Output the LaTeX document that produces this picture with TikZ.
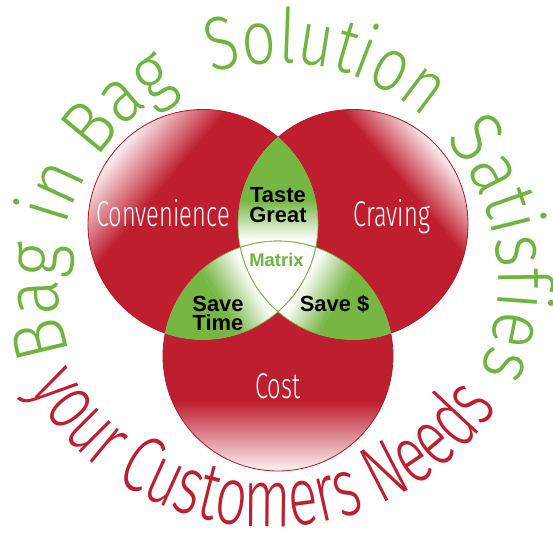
\documentclass[tikz,border=0pt]{standalone}
\usepackage{fontspec}
\setmainfont{Liberation Sans}
\newfontfamily\greenf[FakeStretch=0.88]{Fira Sans Light}
\newfontfamily\greennf[FakeStretch=0.80]{Fira Sans Light}
\newfontfamily\condf[FakeStretch=0.66]{Fira Sans Light}
\newfontfamily\redf[FakeStretch=0.68]{Fira Sans Light}
\usetikzlibrary{decorations.text,calc}
\definecolor{cred}{RGB}{190,30,46}
\definecolor{credline}{RGB}{180,25,42}
\definecolor{cgreen}{RGB}{118,182,67}
\definecolor{tgreen}{RGB}{112,180,64}
\begin{document}
\begin{tikzpicture}[x=1bp,y=1bp,
  lab/.style={font=\condf\fontsize{36}{36}\selectfont, text=white, anchor=base, inner sep=0pt},
  blab/.style={font=\bfseries\fontsize{22}{22}\selectfont, text=black, anchor=base, inner sep=0pt},
  redrim/.style={draw=credline, line width=0.8bp},
  greenrim/.style={draw=cgreen, line width=0.7bp},
  arctext/.style={decorate, decoration={text along path, text align=left, text={#1}}}]
\useasboundingbox (0,0) rectangle (553,537);
\coordinate (Lc) at (203,312.5);
\coordinate (Rc) at (353,312.5);
\coordinate (Bc) at (278,181);
\coordinate (M) at (278,269);
\coordinate (tc) at (278.5,254);
\coordinate (rc) at (270,287);
% red circles with highlights
\foreach \c/\a/\d in {Lc/50/55, Rc/-50/65, Bc/180/45} {
  \begin{scope}
    \clip (\c) circle (115bp);
    \fill[cred] (\c) circle (115bp);
    \begin{scope}[transform canvas={rotate around={\a:(\c)}}]
      \shade[bottom color=cred, top color=white] ($(\c)+(-130,\d)$) rectangle ($(\c)+(130,118)$);
    \end{scope}
  \end{scope}
}
\foreach \c in {Lc,Rc,Bc} \path[redrim] (\c) circle (115bp);
% green lenses
\foreach \p/\q/\a in {Lc/Rc/0, Lc/Bc/120, Rc/Bc/-120} {
  \begin{scope}
    \clip (\p) circle (115bp);
    \clip (\q) circle (115bp);
    \fill[white] (M) circle (200bp);
    \begin{scope}[transform canvas={rotate around={\a:(M)}}]
      \shade[bottom color=white, top color=cgreen] ($(M)+(-150,28)$) rectangle ($(M)+(150,68)$);
      \fill[cgreen] ($(M)+(-150,68)$) rectangle ($(M)+(150,250)$);
    \end{scope}
  \end{scope}
}
% matrix
\begin{scope}
  \clip (Lc) circle (115bp);
  \clip (Rc) circle (115bp);
  \fill[white] (Bc) circle (115bp);
\end{scope}
% green inner lines
\foreach \p/\q in {Lc/Rc, Lc/Bc, Rc/Lc, Rc/Bc, Bc/Lc, Bc/Rc} {
  \begin{scope}
    \clip (\q) circle (115bp);
    \path[greenrim] (\p) circle (115bp);
  \end{scope}
}
% labels
\node[lab] (conv) at (163,310) {Convenience};
\node[lab] (crav) at (392,310) {Craving};
\node[lab] (cost) at (278,138) {Cost};
\node[blab] (taste) at (278,334) {Taste};
\node[blab] (great) at (278,314.5) {Great};
\node[blab, text=tgreen, font=\bfseries\fontsize{18.5}{18.5}\selectfont] (matrix) at (276.5,270) {Matrix};
\node[blab] (save1) at (218,225) {Save};
\node[blab] (time) at (218,206.5) {Time};
\node[blab] (save2) at (334.5,225) {Save \$};
% arc texts
\path[arctext={|\greenf\fontsize{76}{76}\selectfont\color{tgreen}|Bag in Bag}]
  ($(tc)+(198.5:220bp)$) arc[start angle=198.5, end angle=60, radius=220bp];
\path[arctext={|\greennf\fontsize{76}{76}\selectfont\color{tgreen}|Solution}]
  ($(tc)+(107.6:220bp)$) arc[start angle=107.6, end angle=-10, radius=220bp];
\path[arctext={|\greenf\fontsize{76}{76}\selectfont\color{tgreen}|Satisfies}]
  ($(tc)+(41:220bp)$) arc[start angle=41, end angle=-60, radius=220bp];
\path[decorate, decoration={text along path, text align=center,
  text={|\redf\fontsize{82}{82}\selectfont\color{cred}|your Customers Needs}}]
  ($(rc)+(167.6:277bp)$) arc[start angle=167.6, end angle=367.6, radius=277bp];
\end{tikzpicture}
\end{document}
